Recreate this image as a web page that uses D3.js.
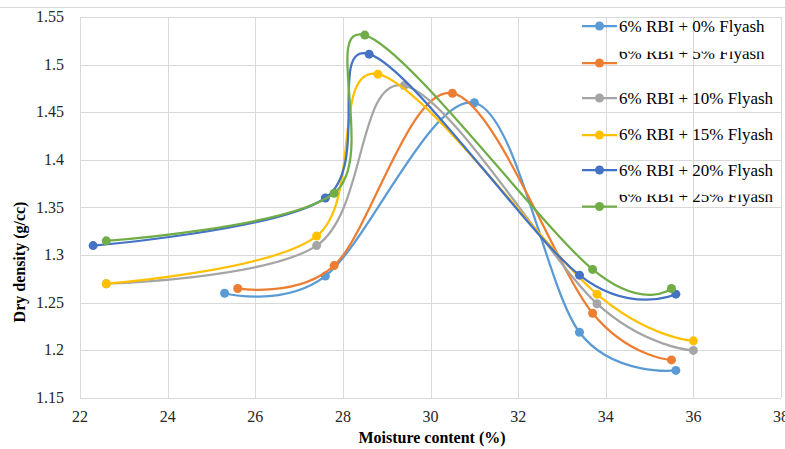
<!DOCTYPE html>
<html lang="en">
<head>
    <meta charset="UTF-8">
    <title>Dry density vs moisture content</title>
    <script src="https://d3js.org/d3.v7.min.js"></script>
    <style>
        body {
            margin: 0;
            padding: 0;
            background: #ffffff;
        }

        svg {
            display: block;
        }

        text {
            font-family: "Liberation Serif", "Times New Roman", Times, "DejaVu Serif", serif;
        }

        .tick-label {
            font-size: 16px;
            fill: #262626;
        }

        .axis-title {
            font-size: 16px;
            font-weight: bold;
            fill: #000;
        }

        .legend-text {
            font-size: 17px;
            fill: #000;
        }
    </style>
</head>
<body>
    <svg id="chart"></svg>

    <script>
        const width = 785;
        const height = 449;
        const serif = "'Liberation Serif', 'Times New Roman', Times, 'DejaVu Serif', serif";

        // series names + colours (Excel default palette)
        const seriesNames = [
            "6% RBI + 0% Flyash",
            "6% RBI + 5% Flyash",
            "6% RBI + 10% Flyash",
            "6% RBI + 15% Flyash",
            "6% RBI + 20% Flyash",
            "6% RBI + 25% Flyash"
        ];
        const seriesColors = ["#5B9BD5", "#ED7D31", "#A5A5A5", "#FFC000", "#4472C4", "#70AD47"];

        // moisture content (%) and dry density (g/cc)
        const moisture0 = [25.3, 27.6, 31.0, 33.4, 35.6];
        const density0 = [1.26, 1.278, 1.46, 1.219, 1.179];

        const moisture5 = [25.6, 27.8, 30.5, 33.7, 35.5];
        const density5 = [1.265, 1.289, 1.47, 1.239, 1.19];

        const moisture10 = [22.6, 27.4, 29.4, 33.8, 36.0];
        const density10 = [1.27, 1.31, 1.478, 1.249, 1.2];

        const moisture15 = [22.6, 27.4, 28.8, 33.8, 36.0];
        const density15 = [1.27, 1.32, 1.49, 1.259, 1.21];

        const moisture20 = [22.3, 27.6, 28.6, 33.4, 35.6];
        const density20 = [1.31, 1.36, 1.511, 1.279, 1.259];

        const moisture25 = [22.6, 27.8, 28.5, 33.7, 35.5];
        const density25 = [1.315, 1.365, 1.531, 1.285, 1.265];

        const xTicks = [22, 24, 26, 28, 30, 32, 34, 36, 38];
        const yTicks = [1.15, 1.2, 1.25, 1.3, 1.35, 1.4, 1.45, 1.5, 1.55];

        const moistureAll = [moisture0, moisture5, moisture10, moisture15, moisture20, moisture25];
        const densityAll = [density0, density5, density10, density15, density20, density25];

        const series = seriesNames.map((name, i) => ({
            name: name,
            color: seriesColors[i],
            points: moistureAll[i].map((m, j) => ({ x: m, y: densityAll[i][j] }))
        }));

        const plot = { left: 80, right: 781, top: 17, bottom: 398 };

        const x = d3.scaleLinear().domain([22, 38]).range([plot.left, plot.right]);
        const y = d3.scaleLinear().domain([1.15, 1.55]).range([plot.bottom, plot.top]);

        const svg = d3.select("#chart")
            .attr("width", width)
            .attr("height", height);

        // thin frame line at the very top
        svg.append("line")
            .attr("x1", 0).attr("x2", width)
            .attr("y1", 7.5).attr("y2", 7.5)
            .attr("stroke", "#d9d9d9")
            .attr("stroke-width", 1);

        // gridlines
        const grid = svg.append("g");
        grid.selectAll(".gx")
            .data(xTicks)
            .enter().append("line")
            .attr("x1", d => Math.round(x(d)) + 0.5)
            .attr("x2", d => Math.round(x(d)) + 0.5)
            .attr("y1", plot.top)
            .attr("y2", plot.bottom)
            .attr("stroke", "#d9d9d9");
        grid.selectAll(".gy")
            .data(yTicks)
            .enter().append("line")
            .attr("x1", plot.left)
            .attr("x2", plot.right)
            .attr("y1", d => Math.round(y(d)) + 0.5)
            .attr("y2", d => Math.round(y(d)) + 0.5)
            .attr("stroke", "#d9d9d9");

        // tick labels
        svg.append("g")
            .selectAll("text")
            .data(yTicks)
            .enter().append("text")
            .attr("class", "tick-label")
            .attr("font-family", serif)
            .attr("x", 64)
            .attr("y", d => y(d) + 5)
            .attr("text-anchor", "end")
            .text(d => +d.toFixed(2));

        svg.append("g")
            .selectAll("text")
            .data(xTicks)
            .enter().append("text")
            .attr("class", "tick-label")
            .attr("font-family", serif)
            .attr("x", d => x(d))
            .attr("y", 422)
            .attr("text-anchor", "middle")
            .text(d => d);

        // axis titles
        svg.append("text")
            .attr("class", "axis-title")
            .attr("font-family", serif)
            .attr("x", 432)
            .attr("y", 443)
            .attr("text-anchor", "middle")
            .text("Moisture content (%)");

        svg.append("text")
            .attr("class", "axis-title")
            .attr("font-family", serif)
            .attr("transform", "translate(25,262) rotate(-90)")
            .attr("text-anchor", "middle")
            .text("Dry density (g/cc)");

        // smoothed lines, Excel style
        const line = d3.line()
            .x(d => x(d.x))
            .y(d => y(d.y))
            .curve(d3.curveCardinal.tension(0));

        const lines = svg.append("g");
        series.forEach(s => {
            const g = lines.append("g");
            g.append("path")
                .datum(s.points)
                .attr("d", line)
                .attr("fill", "none")
                .attr("stroke", s.color)
                .attr("stroke-width", 2.25);
            g.selectAll("circle")
                .data(s.points)
                .enter().append("circle")
                .attr("cx", d => x(d.x))
                .attr("cy", d => y(d.y))
                .attr("r", 4.5)
                .attr("fill", s.color);
        });

        // legend (entries 2 and 6 have their tops cut off in the original)
        const legendMarkerY = [26, 63, 98, 135, 170, 206.5];
        const legendTextY = [32, 59, 104, 140, 176, 202];
        const legendClipTop = [null, 51.5, null, null, null, 194.5];

        const defs = svg.append("defs");
        const legend = svg.append("g");
        series.forEach((s, i) => {
            const row = legend.append("g");
            row.append("line")
                .attr("x1", 582).attr("x2", 617)
                .attr("y1", legendMarkerY[i]).attr("y2", legendMarkerY[i])
                .attr("stroke", s.color)
                .attr("stroke-width", 2.25);
            row.append("circle")
                .attr("cx", 599.5)
                .attr("cy", legendMarkerY[i])
                .attr("r", 4.5)
                .attr("fill", s.color);
            const t = row.append("text")
                .attr("class", "legend-text")
                .attr("font-family", serif)
                .attr("x", 619)
                .attr("y", legendTextY[i])
                .text(s.name);
            if (legendClipTop[i] !== null) {
                defs.append("clipPath")
                    .attr("id", "clip" + i)
                    .append("rect")
                    .attr("x", 600).attr("y", legendClipTop[i])
                    .attr("width", 185).attr("height", 30);
                t.attr("clip-path", "url(#clip" + i + ")");
            }
        });
    </script>
</body>
</html>
